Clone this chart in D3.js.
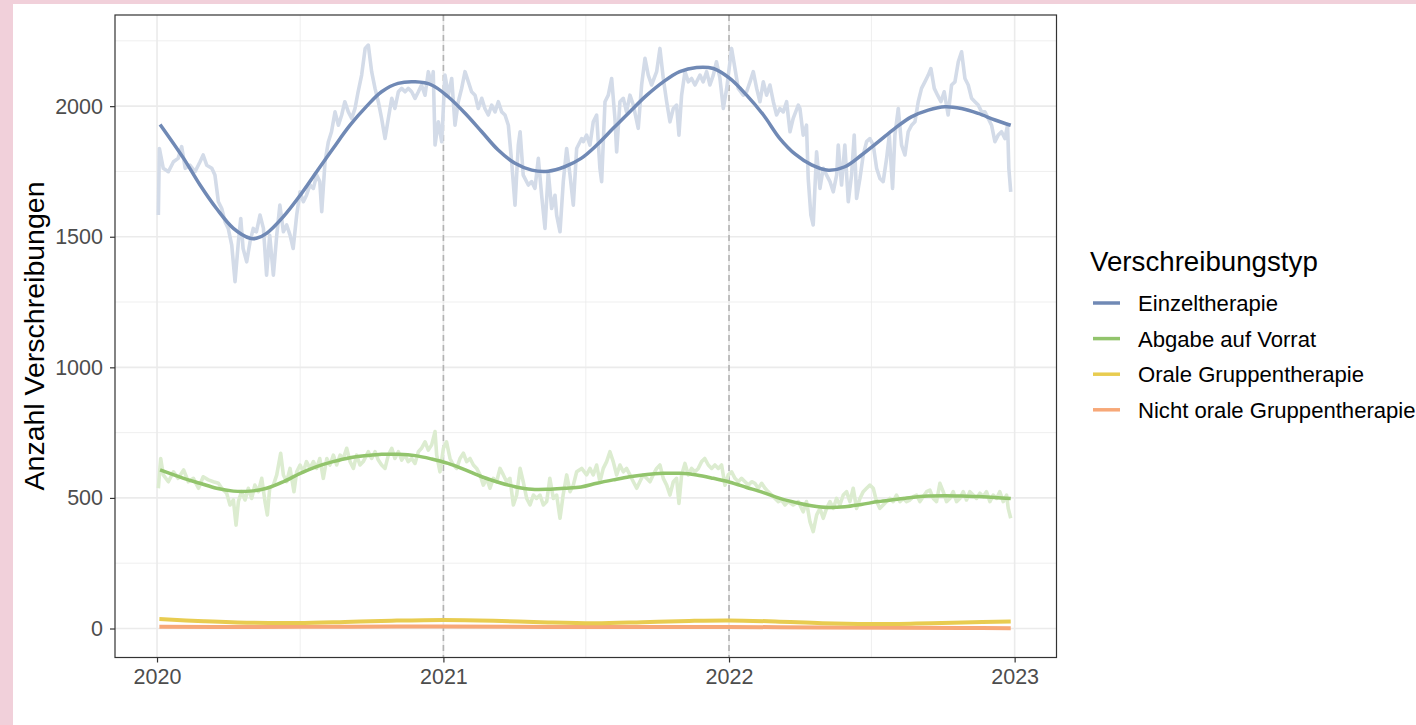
<!DOCTYPE html>
<html><head><meta charset="utf-8">
<script src="https://cdn.jsdelivr.net/npm/d3@7"></script>
<style>
html,body{margin:0;padding:0;background:#f1d0da;}
svg{display:block;}
text{font-family:"Liberation Sans",Arial,sans-serif;}
</style></head>
<body><svg id="chart" width="1416" height="725"></svg>
<script>
// ---- data (day = days since 2020-01-01) ----
const seriesNames = ["Einzeltherapie","Abgabe auf Vorrat","Orale Gruppentherapie","Nicht orale Gruppentherapie"];
const seriesColors = ["#7089b5","#92c46c","#e8cc50","#f7a878"];
const rawColors = ["#d3dbe8","#dcecd0","#f3e6b0","#fbd9c4"];
const yTicks = [0,500,1000,1500,2000];
const yMinor = [250,750,1250,1750,2250];
const xTickYears = [2020,2021,2022,2023];
const dashedYears = [2021,2022];

const einzelRaw = [[1.7,1583],[3,1838],[8,1762],[14.5,1749],[21,1787],[27,1800],[31.5,1845],[36,1762],[42,1774],[48.6,1749],[55,1787],[59,1813],[63.5,1774],[70,1762],[74,1736],[78.4,1634],[82.7,1608],[87,1557],[91,1532],[95.5,1468],[99.7,1328],[104,1481],[107,1570],[110,1455],[114.6,1404],[118.9,1481],[123,1532],[127,1519],[131.6,1583],[136,1532],[140,1353],[144,1506],[148.7,1353],[153,1506],[157,1621],[161.5,1519],[165.7,1545],[170,1506],[174,1455],[178.5,1583],[182.8,1672],[187,1634],[191,1659],[195.5,1698],[199.8,1685],[204,1736],[208,1711],[210.5,1596],[214.7,1787],[219,1864],[223,1902],[227.5,1978],[231.8,1927],[236,1966],[240,2017],[244.5,1978],[248.8,1953],[253,1991],[257,2055],[261.5,2119],[266,2221],[270,2234],[274.3,2132],[278.6,2068],[282.8,2017],[287,1953],[291.4,1876],[295.6,1953],[300,2030],[304,1991],[308.4,2055],[312.7,2068],[317,2055],[321,2068],[325.4,2055],[329.7,2030],[334,2055],[338,2081],[342.5,2042],[346.7,2132],[351,2081],[353,2132],[355.3,1851],[359.5,1940],[363.8,1864],[368,2119],[372.3,2042],[376.6,2106],[380.8,1927],[385,2017],[389.3,2068],[393.6,2132],[397.9,2093],[402,2055],[406.4,2042],[410.6,1991],[415,2030],[419,1991],[423.4,1966],[427.7,2004],[432,1978],[436.2,2017],[440.5,1978],[444.7,1966],[449,1927],[453.2,1787],[457.5,1621],[461.7,1851],[464,1902],[468,1736],[474.5,1698],[478.8,1711],[483,1685],[487.3,1800],[491.5,1659],[495.8,1532],[500,1749],[504.3,1608],[508.6,1659],[510.7,1583],[515,1519],[519.2,1711],[523.5,1838],[527.8,1736],[532,1621],[536.3,1838],[542.7,1876],[544.8,1864],[549,1889],[553.3,1851],[557.5,1940],[561.8,1966],[566,1762],[568.2,1711],[572.5,2017],[576.7,2042],[581,2106],[585.2,1953],[587.4,1825],[591.6,2017],[595.9,2030],[600,1978],[604.4,2042],[608.7,2004],[615,1915],[619.3,2081],[623.6,2183],[627.8,2119],[632,2081],[638.5,2132],[642.7,2221],[647,2106],[651.3,2017],[655.5,1940],[659.8,1991],[664,2004],[667,1889],[670.4,2042],[674.7,2132],[679,2093],[683.2,2106],[687.5,2081],[693.9,2119],[698,2093],[702.4,2132],[706.6,2081],[710.9,2119],[715,2170],[719.4,2106],[723.7,1991],[728,2068],[734.3,2221],[738.6,2144],[742.8,2068],[749.2,2042],[753.5,2055],[757.8,2093],[762,2132],[766.3,2068],[770.5,2017],[774.8,2093],[779,2042],[783.3,2081],[787.6,2017],[791.8,1966],[796,1991],[800.3,1978],[804.6,2017],[808.9,1902],[813,1953],[819.5,2004],[821.6,1991],[825.8,1889],[830,1927],[832.2,1723],[835.6,1583],[838.6,1545],[842.9,1825],[847.2,1685],[851.4,1762],[855.7,1736],[860,1711],[864.2,1672],[868.5,1736],[870.6,1851],[874.8,1698],[879,1851],[883.4,1634],[887.6,1736],[891,1889],[894,1647],[898.3,1723],[902.5,1813],[906.8,1864],[911,1876],[915.3,1851],[919.6,1762],[923.8,1723],[928,1711],[932.4,1800],[935.8,1889],[940,1685],[943,1889],[947.3,1991],[951.5,1851],[955.8,1813],[960,1902],[964.3,1927],[968.6,1940],[972.8,2017],[977,2068],[981.3,2093],[985.6,2119],[989,2144],[993.3,2068],[997.5,2042],[1001.8,2017],[1006,2055],[1011,1966],[1015.4,2081],[1019.7,2093],[1024,2170],[1028.2,2208],[1032.5,2106],[1036.7,2081],[1041,2030],[1045.2,2017],[1049.5,2004],[1053.8,1978],[1058,1978],[1062.3,1953],[1066.5,1927],[1070.8,1864],[1075,1889],[1079.3,1902],[1083.5,1876],[1087,1927],[1088.6,1762],[1091,1672]];

const vorratRaw = [[1.7,537],[4.7,651],[8,588],[14.5,562],[21,600],[27,575],[34,607],[40,562],[46.5,575],[53,537],[59,581],[65.6,569],[72,562],[78.4,556],[82.7,537],[89,518],[93.3,473],[97.6,492],[101,396],[104,486],[108,524],[112.5,492],[116.7,537],[121,498],[125,549],[129.5,524],[133.8,575],[138,486],[141,435],[144,537],[148.7,549],[153,588],[158,671],[161.5,588],[165.7,562],[170,613],[175,524],[178.5,600],[182.8,626],[187,600],[191,639],[195.5,613],[199.8,639],[204,613],[208,651],[212.5,575],[217,651],[221,626],[225.4,664],[229.6,626],[234,664],[238,651],[242.4,690],[246.7,639],[251,613],[255,664],[259.4,626],[263.6,639],[270,677],[274.3,651],[278.6,677],[282.8,645],[287,626],[291.4,613],[295.6,664],[300,690],[304,651],[308.4,677],[312.7,645],[317,664],[321,639],[325.4,651],[329.7,632],[334,677],[338,690],[342.5,715],[346.7,683],[351,703],[355.3,754],[357.4,664],[361.6,600],[366,690],[370,715],[374.4,651],[378.7,626],[383,613],[387.2,651],[391.5,671],[395.7,639],[400,651],[404.3,626],[408.5,613],[412.8,588],[417,549],[421.3,575],[425.5,537],[429.8,575],[434,562],[438.3,613],[442.6,588],[446.8,562],[451,575],[455.4,473],[459.6,511],[464,613],[468,562],[472.4,498],[476.7,473],[481,511],[485,498],[489.4,511],[493.7,473],[498,486],[502,575],[506.5,498],[510.7,511],[515,422],[519,511],[523.5,588],[527.8,524],[532,549],[536.3,600],[542.7,613],[549,588],[553.3,613],[557.5,588],[561.8,626],[566,562],[570.3,613],[574.6,639],[578.8,677],[583,639],[587.4,588],[591.6,626],[595.9,600],[600,613],[604.4,588],[608.7,562],[613,537],[617,562],[621.4,588],[625.7,575],[630,562],[634,588],[638.5,613],[642.7,626],[647,575],[651.3,549],[655.5,511],[659.8,562],[664,575],[667,479],[670.4,588],[674.7,632],[679,588],[683.2,613],[687.5,600],[691.7,613],[696,639],[700,651],[704.5,626],[708.8,613],[713,626],[717.3,613],[721.5,626],[725.8,549],[730,588],[734.3,600],[738.6,575],[742.8,562],[747,575],[751.4,562],[755.6,549],[760,562],[764,556],[768.4,537],[772.7,556],[777,537],[781,524],[785.5,511],[789.7,498],[794,486],[798,492],[802.5,473],[806.7,486],[813,473],[819.5,486],[825.8,447],[830,486],[834.4,409],[838.6,371],[843,435],[847.2,460],[851.4,422],[855.7,460],[860,486],[864.2,460],[868.5,498],[872.7,473],[877,511],[881.2,524],[885.5,486],[889.7,537],[894,460],[898.3,498],[902.5,524],[906.8,537],[911,549],[915.3,537],[919.6,486],[923.8,460],[928,473],[932.4,486],[936.6,498],[940.8,486],[945,511],[949.4,486],[953.6,498],[957.9,486],[962,492],[966.4,505],[970.7,511],[975,486],[979.2,505],[983.5,524],[987.7,530],[992,498],[996.2,486],[1000.5,556],[1004.7,524],[1009,486],[1013.2,498],[1017.5,524],[1021.8,486],[1026,498],[1030.3,524],[1034.5,492],[1038.8,524],[1043,511],[1047.3,498],[1051.6,518],[1055.8,505],[1060,524],[1064.4,486],[1068.6,511],[1072.9,498],[1077,524],[1081.4,486],[1085.7,511],[1087.8,460],[1091,422]];

const einzelSmooth = [[3.9,1930],[34,1800],[55,1698],[76,1608],[97.6,1532],[119,1494],[127,1494],[140,1513],[161.5,1577],[183,1659],[204,1749],[225,1838],[246.7,1927],[268,2000],[287,2055],[308,2087],[330,2093],[351,2081],[372,2036],[394,1972],[415,1902],[436,1832],[457.5,1781],[479,1755],[500,1751],[521,1768],[542,1800],[562,1851],[583,1915],[604,1978],[626,2042],[647,2093],[668,2132],[689.6,2148],[711,2144],[732,2106],[753.5,2042],[775,1966],[796,1876],[816,1815],[836.5,1775],[858,1755],[879,1768],[900.4,1813],[922,1864],[943,1915],[964,1959],[985.6,1985],[1007,1998],[1028,1991],[1049.5,1972],[1071,1947],[1091,1927]];

const vorratSmooth = [[3.9,607],[34,575],[55,556],[76,537],[97.6,526],[119,526],[140,537],[161.5,562],[183,594],[204,620],[225,639],[246.7,654],[268,662],[287,667],[308,667],[330,662],[351,649],[372,632],[394,607],[415,581],[436,560],[457.5,543],[479,533],[500,533],[521,537],[542,542],[562,556],[583,569],[604,581],[626,590],[647,594],[668,594],[689.6,588],[711,575],[732,560],[753.5,540],[775,520],[796,498],[817,482],[836.5,470],[858,463],[879,466],[900,475],[922,486],[943,494],[964,502],[985.6,507],[1007,508],[1028,507],[1049.5,505],[1071,502],[1091,498]];

const oraleSmooth = [[3,36],[60,28],[120,22],[180,21],[240,25],[300,30],[366,33],[430,30],[500,23],[560,20],[620,24],[680,29],[730,31],[790,27],[850,20],[910,17],[970,19],[1030,23],[1091,27]];

const nichtOraleSmooth = [[3,7],[120,6],[250,7],[366,8],[500,6],[650,6],[730,6],[850,4],[950,3],[1030,2],[1091,1]];

const rawSeries = [einzelRaw, vorratRaw];
const smoothSeries = [einzelSmooth, vorratSmooth, oraleSmooth, nichtOraleSmooth];

// ---- layout ----
const svg = d3.select("#chart");
const panel = {left:115, top:15, right:1056.5, bottom:657.5};
const t0 = Date.UTC(2020,0,1);
const DAY = 864e5;
const toDate = d => new Date(t0 + d*DAY);
const x = d3.scaleUtc().domain([toDate(-53.7), toDate(1149.5)]).range([panel.left, panel.right]);
const y = d3.scaleLinear().domain([-111, 2349]).range([panel.bottom, panel.top]);

svg.append("rect").attr("x",13).attr("y",4).attr("width",1416-13).attr("height",725-4).attr("fill","#fff");

const g = svg.append("g");
g.append("rect").attr("x",panel.left).attr("y",panel.top)
  .attr("width",panel.right-panel.left).attr("height",panel.bottom-panel.top).attr("fill","#fff");

// minor grid
const xMinorDates = [Date.UTC(2020,6,2),Date.UTC(2021,6,2),Date.UTC(2022,6,2)].map(t=>new Date(t));
g.selectAll(".ymin").data(yMinor).enter().append("line")
  .attr("x1",panel.left).attr("x2",panel.right).attr("y1",d=>y(d)).attr("y2",d=>y(d))
  .attr("stroke","#ebebeb").attr("stroke-width",0.8);
g.selectAll(".xmin").data(xMinorDates).enter().append("line")
  .attr("y1",panel.top).attr("y2",panel.bottom).attr("x1",d=>x(d)).attr("x2",d=>x(d))
  .attr("stroke","#ebebeb").attr("stroke-width",0.8);
// major grid
g.selectAll(".ymaj").data(yTicks).enter().append("line")
  .attr("x1",panel.left).attr("x2",panel.right).attr("y1",d=>y(d)).attr("y2",d=>y(d))
  .attr("stroke","#ebebeb").attr("stroke-width",1.6);
g.selectAll(".xmaj").data(xTickYears).enter().append("line")
  .attr("y1",panel.top).attr("y2",panel.bottom).attr("x1",d=>x(new Date(Date.UTC(d,0,1)))).attr("x2",d=>x(new Date(Date.UTC(d,0,1))))
  .attr("stroke","#ebebeb").attr("stroke-width",1.6);

// dashed year separators
g.selectAll(".dash").data(dashedYears).enter().append("line")
  .attr("y1",panel.top).attr("y2",panel.bottom)
  .attr("x1",d=>x(new Date(Date.UTC(d,0,1)))).attr("x2",d=>x(new Date(Date.UTC(d,0,1))))
  .attr("stroke","#b3b3b3").attr("stroke-width",1.6).attr("stroke-dasharray","6,4");

// raw lines
const rawLine = d3.line().x(d=>x(toDate(d[0]))).y(d=>y(d[1])).curve(d3.curveLinear);
rawSeries.forEach((s,i)=>{
  g.append("path").datum(s).attr("d",rawLine).attr("fill","none")
   .attr("stroke",rawColors[i]).attr("stroke-width",3.6).attr("stroke-linejoin","round");
});
// smooth lines
const smoothLine = d3.line().x(d=>x(toDate(d[0]))).y(d=>y(d[1])).curve(d3.curveCatmullRom.alpha(0.5));
[3,2,1,0].forEach(i=>{
  g.append("path").datum(smoothSeries[i]).attr("d",smoothLine).attr("fill","none")
   .attr("stroke",seriesColors[i]).attr("stroke-width", i>=2 ? 4 : 3.5).attr("stroke-linecap","butt");
});

// panel border
g.append("rect").attr("x",panel.left).attr("y",panel.top)
  .attr("width",panel.right-panel.left).attr("height",panel.bottom-panel.top)
  .attr("fill","none").attr("stroke","#333").attr("stroke-width",1.2);

// axes
const yAxis = d3.axisLeft(y).tickValues(yTicks).tickSize(5).tickPadding(7).tickFormat(d3.format("d"));
const ya = svg.append("g").attr("transform",`translate(${panel.left},0)`).call(yAxis);
const xAxis = d3.axisBottom(x).tickValues(xTickYears.map(v=>new Date(Date.UTC(v,0,1)))).tickSize(5).tickPadding(6).tickFormat(d3.utcFormat("%Y"));
const xa = svg.append("g").attr("transform",`translate(0,${panel.bottom})`).call(xAxis);
[ya,xa].forEach(a=>{
  a.select(".domain").remove();
  a.selectAll(".tick line").attr("stroke","#333").attr("stroke-width",1.2);
  a.selectAll(".tick text").attr("fill","#4d4d4d").style("font-size","21.5px").style("font-family",'"Liberation Sans",Arial,sans-serif');
});

// y title
svg.append("text").attr("transform","translate(44,336) rotate(-90)")
  .attr("text-anchor","middle").attr("fill","#000").style("font-size","28.5px").text("Anzahl Verschreibungen");

// legend
const lg = svg.append("g");
lg.append("text").attr("x",1090).attr("y",271).style("font-size","27.7px").attr("fill","#000").text("Verschreibungstyp");
const ly0 = 303, ldy = 35.6;
seriesNames.forEach((n,i)=>{
  const yy = ly0 + i*ldy;
  lg.append("line").attr("x1",1093).attr("x2",1120).attr("y1",yy).attr("y2",yy)
    .attr("stroke",seriesColors[i]).attr("stroke-width",3.5);
  lg.append("text").attr("x",1138).attr("y",yy+7.9).style("font-size","22.1px").attr("fill","#000").text(n);
});
</script></body></html>
